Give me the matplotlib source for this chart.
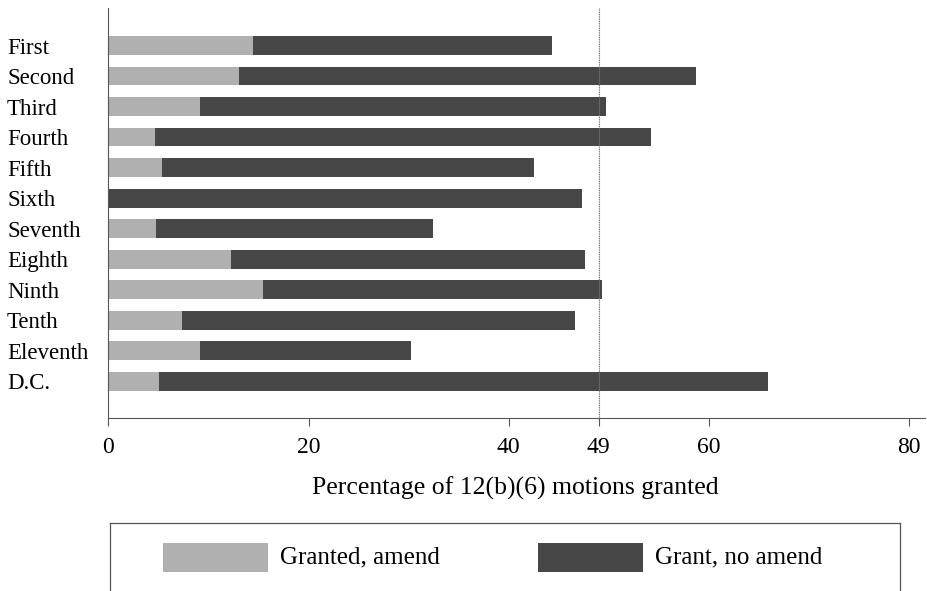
import matplotlib.pyplot as plt
from matplotlib.patches import Rectangle
from matplotlib.lines import Line2D

plt.rcParams['font.family'] = ['Liberation Serif', 'DejaVu Serif']

circuits = ["First", "Second", "Third", "Fourth", "Fifth", "Sixth",
            "Seventh", "Eighth", "Ninth", "Tenth", "Eleventh", "D.C."]
# percentage granted with leave to amend / total granted
amend = [14.6, 13.2, 9.3, 4.8, 5.5, 0.0, 4.9, 12.4, 15.6, 7.5, 9.3, 5.2]
total = [44.5, 58.9, 49.9, 54.4, 42.7, 47.5, 32.6, 47.8, 49.5, 46.8, 30.4, 66.1]
no_amend = [t - a for t, a in zip(total, amend)]
xticks = [0, 20, 40, 49, 60, 80]

light = "#b0b0b0"
dark = "#474747"

fig = plt.figure(figsize=(9.28, 5.91), dpi=100)
ax = fig.add_axes([108.5/928, 1 - 418/591, 816/928, 410/591])

pos = list(range(len(circuits)))
ax.barh(pos, amend, height=0.62, color=light, left=-0.2)
ax.barh(pos, no_amend, height=0.62, left=[a - 0.2 for a in amend], color=dark)

ax.axvline(49, color="#777777", lw=0.8, ls=(0, (1, 0.6)))

ax.set_xlim(0, 81.6)
ax.set_ylim(len(circuits) - 1 + 1.21, -1.23)
ax.set_xticks(xticks)
ax.set_xticklabels([str(v) for v in xticks], fontsize=17)
ax.tick_params(axis='x', length=6, width=0.8, color="#555555", pad=8)
ax.set_yticks(pos)
ax.set_yticklabels(circuits, fontsize=16.5)
for lab in ax.get_yticklabels():
    lab.set_ha('left')
ax.tick_params(axis='y', length=0, pad=73)

for s in ["top", "right"]:
    ax.spines[s].set_visible(False)
ax.spines["left"].set_color("#555555")
ax.spines["bottom"].set_color("#555555")
ax.spines["left"].set_linewidth(0.8)
ax.spines["bottom"].set_linewidth(0.8)

fig.text(515/928, 1 - 488/591, "Percentage of 12(b)(6) motions granted",
         ha="center", va="center", fontsize=18.5)

# legend box, open at the bottom edge of the page
def fx(px):
    return px / 928

def fy(py):
    return 1 - py / 591

fig.add_artist(Line2D([fx(110), fx(900)], [fy(523), fy(523)], color="#555555", lw=0.9))
fig.add_artist(Line2D([fx(110), fx(110)], [fy(523), fy(591)], color="#555555", lw=0.9))
fig.add_artist(Line2D([fx(900), fx(900)], [fy(523), fy(591)], color="#555555", lw=0.9))
fig.add_artist(Rectangle((fx(163), fy(572)), fx(268) - fx(163), fy(543) - fy(572),
                         facecolor=light, edgecolor="none", transform=fig.transFigure))
fig.add_artist(Rectangle((fx(538), fy(572)), fx(643) - fx(538), fy(543) - fy(572),
                         facecolor=dark, edgecolor="none", transform=fig.transFigure))
fig.text(fx(280), fy(557), "Granted, amend", ha="left", va="center", fontsize=18)
fig.text(fx(655), fy(557), "Grant, no amend", ha="left", va="center", fontsize=18)

fig.savefig("out.png", dpi=100)
